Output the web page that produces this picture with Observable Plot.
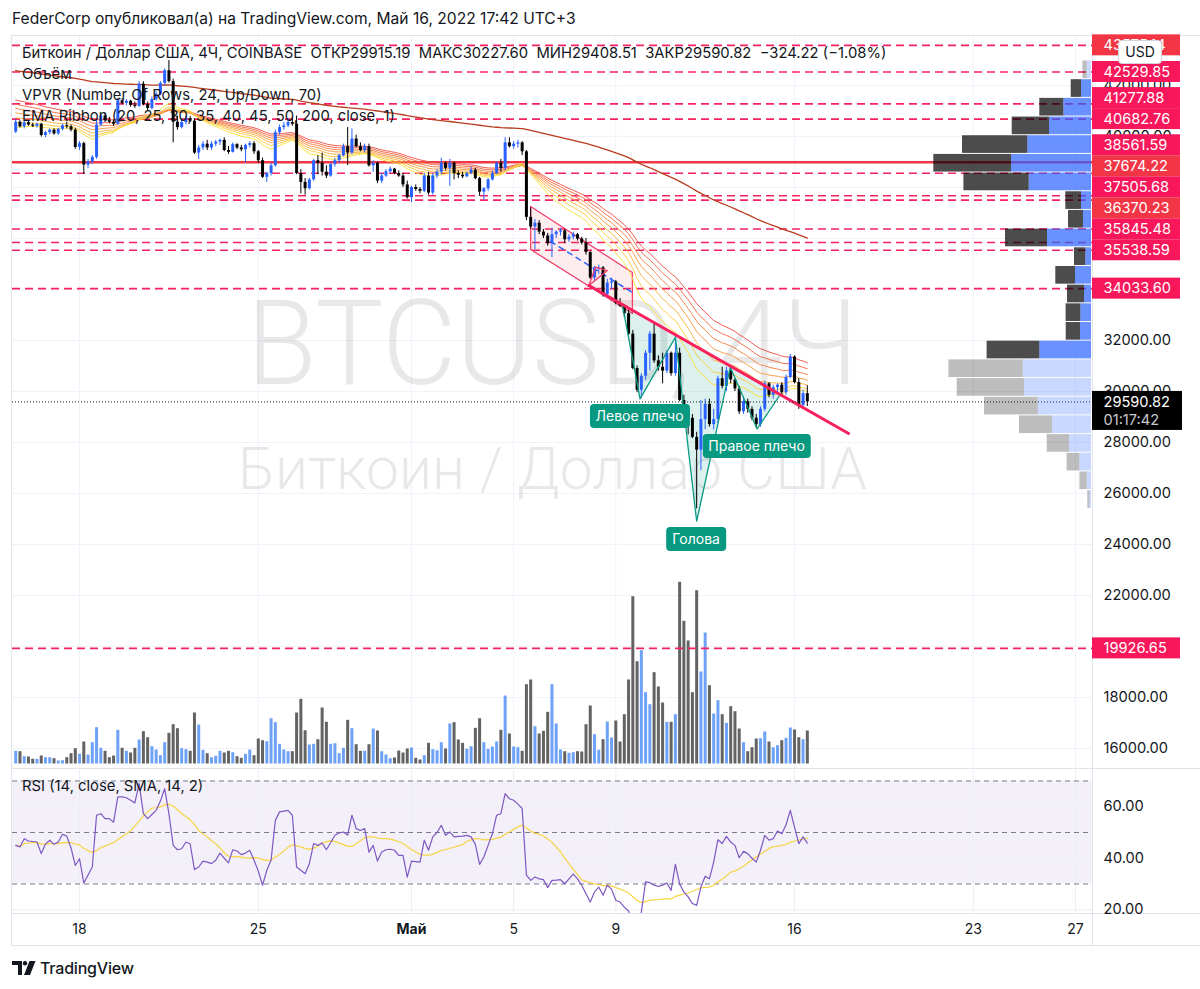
<!DOCTYPE html>
<html lang="ru"><head><meta charset="utf-8">
<script src="https://cdn.jsdelivr.net/npm/d3@7"></script>
<script src="https://cdn.jsdelivr.net/npm/@observablehq/plot@0.6"></script>
<style>
html,body{margin:0;padding:0;background:#fff;}
#root{position:relative;width:1200px;height:989px;overflow:hidden;font-family:Inter,"Noto Sans",Roboto,sans-serif;color:#131722;}
.abs{position:absolute;white-space:pre;}
.leg{font-size:14.8px;line-height:20px;}
.hs{position:absolute;background:#089981;color:#fff;font-size:14px;line-height:20px;padding:2px 6px;border-radius:4px;transform:translateX(-50%);white-space:nowrap;}
.ln{position:absolute;background:#e0e3eb;}
</style></head><body><div id="root"></div>
<script>
// ---------------- DATA ----------------
const headerText = "FederCorp опубликовал(а) на TradingView.com, Май 16, 2022 17:42 UTC+3";
const legendMain = "Биткоин / Доллар США, 4Ч, COINBASE  ОТКР29915.19  МАКС30227.60  МИН29408.51  ЗАКР29590.82  −324.22 (−1.08%)";
const legendVol = "Объём";
const legendVpvr = "VPVR (Number Of Rows, 24, Up/Down, 70)";
const legendEma = "EMA Ribbon (20, 25, 30, 35, 40, 45, 50, 200, close, 1)";
const legendRsi = "RSI (14, close, SMA, 14, 2)";
const watermarkSymbol = "BTCUSD, 4Ч";
const watermarkName = "Биткоин / Доллар США";
const barCountdown = "01:17:42";

// 4H candles, first bar 2022-04-15 12:00 UTC
const opens = [40170,40560,40380,40540,40450,40400,40480,40040,40150,40250,
40100,40280,40420,40380,40250,39570,39720,38880,39000,39180,
40450,40800,40620,40560,40480,41400,41300,41380,41220,41180,
42050,41250,41100,41450,41650,42080,42580,42150,40560,40350,
40550,40700,40600,39350,39550,39700,39550,39700,39780,39850,
39450,39380,39680,39550,39480,39650,39720,39400,39050,38400,
38550,38850,40150,40350,40420,40550,40480,38550,38200,37950,
38300,39050,38950,38600,38450,38900,39050,39250,39600,39350,
39900,39600,39450,39600,38850,38950,38250,38450,38620,38720,
38550,38450,38100,37600,38000,37920,37850,38450,37780,38450,
38600,38950,38750,38950,38550,38480,38420,38550,38680,38350,
37820,37950,38300,38550,38950,38750,39750,39600,39700,39750,
39400,36830,36450,36600,36250,36100,35800,36150,36250,36300,
35950,36050,36150,35980,35820,35450,34450,34800,34850,33800,
34250,34300,33450,33350,33050,32250,30900,30050,30600,31500,
32250,31200,30950,30800,31500,30700,31500,29650,29150,28950,
28200,27700,28900,29500,28700,28900,30500,30200,30800,30450,
30100,29200,29600,29300,28950,28700,29300,30300,29850,30150,
30250,29950,30550,31350,30350,29450,29915.19];
const highs = [40670,40620,40600,40590,40520,40520,40520,40200,40300,40300,
40320,40480,40560,40450,40320,39800,39780,39100,39250,40650,
40850,40900,40750,40650,41500,41480,41450,41420,41350,42150,
42150,41350,41550,41750,42150,42650,42980,42250,40800,40650,
40800,40780,40700,39650,39800,39850,39800,39850,39900,39950,
39600,39750,39720,39650,39700,39800,39800,39450,39150,38600,
38950,40250,40450,40550,40700,40750,40800,38700,38350,38350,
39100,39250,39350,38850,38950,39150,39300,39700,40350,40300,
40050,39750,39700,39700,39050,39000,38550,38700,38800,38750,
38650,38550,38250,38050,38100,38000,38550,38600,38550,38700,
39150,39000,39100,39000,38650,38600,38600,38800,38750,38400,
38000,38350,38650,39000,39100,39950,39950,39800,39850,39800,
39450,37200,36750,36700,36350,36200,36400,36300,36400,36350,
36150,36250,36200,36050,36000,35500,34900,34950,34900,34400,
34450,34350,33650,33400,33200,32400,31000,30700,31600,32350,
32650,31400,31500,31600,31550,32200,31700,29850,29300,29100,
28400,29650,29700,29700,29300,30600,30950,30950,30900,30500,
30200,29800,29700,29400,29100,29400,30400,30350,30250,30300,
30350,30650,31450,31400,30500,30050,30227.60];
const lows = [40120,40330,40300,40400,40350,40330,39980,39950,40080,40050,
40050,40220,40300,40180,39500,39450,38510,38750,38900,39100,
40400,40550,40500,40400,40450,41250,41200,41150,41100,41150,
41200,41000,41050,41380,41600,42000,42100,39750,40250,40300,
40450,40550,39300,39100,39450,39450,39450,39600,39650,39400,
39300,39350,39480,39400,38950,39550,39300,38950,38350,38200,
38450,38800,40050,40250,40350,40400,38500,37750,37700,37900,
38250,38500,38450,38350,38400,38800,38950,39200,38860,39300,
39550,39400,39350,38800,38600,38150,38150,38400,38550,38500,
38400,38000,37550,37400,37850,37750,37800,37700,37700,38350,
38500,38650,38050,38300,38350,38350,38380,38500,38300,37650,
37500,37850,38250,38500,38600,38650,39550,39500,39550,39250,
36700,36350,35570,36150,36000,35700,35250,36000,36100,35800,
35850,35950,35900,35750,35350,34400,34300,34600,33700,33750,
34000,33400,33300,32900,32200,30850,29950,29730,30450,30800,
31100,30800,30300,30700,30600,30600,29600,29050,28300,28150,
25400,26900,28500,28600,28500,28750,30100,30000,30300,30000,
29100,29100,29150,28850,28550,28600,29200,29750,29700,29900,
29850,29850,30500,30300,29300,29350,29408.51];
const closes = [40560,40380,40540,40450,40400,40480,40040,40150,40250,40100,
40280,40420,40380,40250,39570,39720,38880,39000,39180,40450,
40800,40620,40560,40480,41400,41300,41380,41220,41180,42050,
41250,41100,41450,41650,42080,42580,42150,40560,40350,40550,
40700,40600,39350,39550,39700,39550,39700,39780,39850,39450,
39380,39680,39550,39480,39650,39720,39400,39050,38400,38550,
38850,40150,40350,40420,40550,40480,38550,38200,37950,38300,
39050,38950,38600,38450,38900,39050,39250,39600,39350,39900,
39600,39450,39600,38850,38950,38250,38450,38620,38720,38550,
38450,38100,37600,38000,37920,37850,38450,37780,38450,38600,
38950,38750,38950,38550,38480,38420,38550,38680,38350,37820,
37950,38300,38550,38950,38750,39750,39600,39700,39750,39400,
36830,36450,36600,36250,36100,35800,36150,36250,36300,35950,
36050,36150,35980,35820,35450,34450,34800,34850,33800,34250,
34300,33450,33350,33050,32250,30900,30050,30600,31500,32250,
31200,30950,30800,31500,30700,31500,29650,29150,28950,28200,
27700,28900,29500,28700,28900,30500,30200,30800,30450,30100,
29200,29600,29300,28950,28700,29300,30300,29850,30150,30250,
29950,30550,31350,30350,29450,29915.19,29590.82];
// volume per bar (BTC)
const volumes = [1270,1230,730,700,470,470,800,630,630,530,
300,330,630,1030,1530,970,2200,900,2130,3630,
1570,1270,630,800,3370,1570,1270,1100,1570,2400,
3230,2630,1730,1400,830,2130,3070,3930,3530,1530,
1430,1270,5100,3900,1370,1030,630,770,1270,1100,
1270,1130,730,570,970,1400,830,2500,2330,2230,
4530,4130,1970,1400,1230,1230,5100,6470,3330,1900,
1970,2430,5600,4170,1970,2030,1030,1570,4370,3530,
1930,1270,1270,1930,3500,3300,1230,900,530,600,
1300,1100,1500,1600,570,400,830,2070,1430,1330,
2130,1500,4000,4130,2400,2070,1470,1730,3570,4530,
2130,1470,1700,2200,3370,6800,3000,1700,1630,1270,
7930,8400,3730,3000,3270,5170,7930,4000,1400,1230,
1070,1130,1230,1200,3930,5800,2930,1370,2430,4200,
2600,4300,2200,4930,8400,16730,10230,11330,7130,5930,
9130,7700,6100,4170,4170,4930,18170,14270,12300,7130,
17330,9200,13100,7830,5000,6330,4930,4070,5730,5230,
3500,2130,1230,1630,2500,2530,3200,2200,1630,1830,
2330,2570,3600,3400,2630,2430,3300];
// RSI(14) per bar
const rsi = [45,44.4,47.6,46.7,46.5,46.3,41.8,45.5,47,45.4,
46.3,49.3,48.6,44,37.2,39.8,30.4,33.5,36.6,56.7,
57.3,55.4,55.4,54,63.8,63.8,63.5,62.5,61.5,69,
57.3,55.4,57,58.6,62.2,67,57.3,45,43.3,43.7,
46.3,45.5,35.6,36.6,38.9,38.5,37.9,39.2,42,40,
38.2,43.3,42.8,41.4,42,43.1,39.2,35,29.5,35.3,
39.2,54.7,58,58.3,58.6,56.7,36.6,35.3,34,37.9,
45.7,45,45.9,43.3,46,48.9,49.8,50.2,49,56.7,
51.5,50.8,51.5,42.4,45,38.9,42.4,43.3,43.5,43.1,
41.1,41.1,32.7,38.9,38.7,38.5,47,43.1,48.3,50,
52.8,48.9,50.2,48.3,48.5,48.6,48.9,48.3,45.4,37.6,
40.5,45,49.5,56.7,57.3,65.1,63.1,62.5,61,59.3,
33.4,31.4,32.7,32,31.7,28.6,31.4,31.5,31.7,30.1,
32,33.8,32,29.5,26.2,23,26.9,28.8,25.6,29.5,
28,23.7,23,21,19.5,14,11,19.1,30.8,30.5,
29.5,29.1,29.5,30.4,27.5,37.6,30,26.9,25,22.4,
21.7,28.8,33,32,38.5,47.2,45.7,48.5,46.3,45,
40.2,42.7,41.8,40,38.5,43.1,48.9,47,47.6,50.6,
49.5,53,58.6,52.1,45.7,48.3,45.9];
// EMA ribbon periods and their values just before the first visible bar
const emaPeriods = [20,25,30,35,40,45,50];
const emaSeeds = [40350,40550,40750,40950,41130,41300,41470];
const ema200Seed = 42600;
// VPVR: 24 rows from the visible high to the visible low (top -> bottom)
const vpHigh = 42980, vpLow = 25400;
const vpUp =   [4.3,10,27.7,42,63.7,80,62.3,10,8,44,5.7,16,7,10.7,11,51.7,68.3,67,53.3,39,22,11.7,4.3,1.7];
const vpDown = [4.3,10.3,24,37.3,65.3,77.7,65.3,15.7,15,42,11.3,19.7,17,14.7,14.3,52.7,74.3,67.3,53.7,33,22.3,12.7,7.3,2];
const vpInValueArea = [0,1,1,1,1,1,1,1,1,1,1,1,1,1,1,1,0,0,0,0,0,0,0,0];
// horizontal lines
const hlinePrices = [43575.14,42529.85,41277.88,40682.76,38561.59,37674.22,37505.68,36370.23,35845.48,35538.59,34033.60,19926.65];
const hlineAltLabel = [43575.14,37674.22,36370.23];
const solidLinePrice = 38992;
// drawings (bar index, price)
const channelIdx = [121, 144.9];
const channelTop = [37255, 34666];
const channelBot = [35568, 33058];
const projIdx = [125.7, 144.9];
const projPrice = [35883, 33882];
const flagIdx = [134.7, 136.2, 139.0, 134.7];
const flagPrice = [34156, 34874, 34745, 34156];
const trendIdx = [134.7, 195.7];
const trendPrice = [34156, 28352];
const hsIdx = [142.5, 146.7, 155.0, 160.0, 167.9, 174.2, 179.5];
const hsPrice = [33450, 29713, 32129, 24913, 30952, 28537, 29843];
const hsLabels = [{k:1, text:"Левое плечо"}, {k:3, text:"Голова"}, {k:5, text:"Правое плечо"}];
// axes
const priceTicks = [16000,18000,20000,22000,24000,26000,28000,30000,32000,34000,36000,38000,40000,42000];
const rsiTicks = [20,40,60];
const rsiLevels = [70,50,30];
const timeTickDates = ["2022-04-18","2022-04-25","2022-05-01","2022-05-05","2022-05-09","2022-05-16","2022-05-23","2022-05-27"];
const timeTickLabels = ["18","25","Май","5","9","16","23","27"];
const timeTickBold = [false,false,true,false,false,false,false,false];

// ---------------- LAYOUT / STYLE ----------------
const FONT = 'Inter, "Noto Sans", Roboto, sans-serif';
const UP = "#2962ff", DOWN = "#000000", VOL_UP = "#6ea2f8", VOL_DOWN = "#636363";
const PINK = "#f5225f";
const AXIS_FS = 14.6;
const ribbonColors = ["#f8e23c","#fbcb3f","#fbb243","#f99a45","#f68246","#f26a47","#ee5248"];
const W = 1200, ML = 12, MR = 108;
const PANE_TOP = 36, PANE_H = 732, RSI_TOP = 768, RSI_H = 145, TAX_TOP = 913, TAX_H = 32;
const HOUR = 3600e3, BAR = 4 * HOUR;
const base = Date.UTC(2022, 3, 15, 12);
const tOf = i => new Date(base + i * BAR);
const xDomain = [new Date(base - 3.008 * HOUR), new Date(base + 1012.03 * HOUR)];
const yDomain = [15215.7, 43921.6];
const rsiDomain = [18.54, 74.85];

const root = document.getElementById("root");
function add(el, left, top) { el.style.position = "absolute"; el.style.left = left + "px"; el.style.top = top + "px"; root.appendChild(el); return el; }
function div(cls, text, left, top, extra) { const d = document.createElement("div"); d.className = cls; d.textContent = text; if (extra) Object.assign(d.style, extra); return add(d, left, top); }

// frame lines
[[12,35,1188,1],[11,35,1,911],[12,945,1188,1],[1092,35,1,911],[12,768,1188,1],[12,913,1188,1]].forEach(([l,t,w,h]) => div("ln", "", l, t, {width: w + "px", height: h + "px"}));

const candles = opens.map((o, i) => ({t: tOf(i), o, h: highs[i], l: lows[i], c: closes[i], v: volumes[i], up: closes[i] >= o}));
function ema(vals, n, seed) { const a = 2 / (n + 1); let e = seed; return vals.map(v => (e = a * v + (1 - a) * e)); }
const ribbon = emaPeriods.map((n, k) => ema(closes, n, emaSeeds[k]).map((v, i) => ({t: tOf(i), v})));
const ema200 = ema(closes, 200, ema200Seed).map((v, i) => ({t: tOf(i), v}));
const rsiData = rsi.map((v, i) => ({t: tOf(i), v, sma: d3.mean(rsi.slice(Math.max(0, i - 13), i + 1))}));
const timeTicks = timeTickDates.map((d, i) => ({date: new Date(d + "T00:00:00Z"), label: timeTickLabels[i], bold: timeTickBold[i]}));
const pts = (idx, pr) => idx.map((i, k) => ({t: tOf(i), p: pr[k]}));

const styleBase = {background: "transparent", overflow: "visible", fontFamily: FONT};
const common = {width: W, marginLeft: ML, marginRight: MR, marginTop: 0, marginBottom: 0, style: styleBase};
const xOpt = {type: "utc", domain: xDomain, axis: null};

// grid + watermark
const gridPlot = Plot.plot({...common, height: PANE_H, x: xOpt, y: {domain: yDomain, axis: null},
  marks: [
    Plot.ruleY(priceTicks, {stroke: "#f0f3fa"}),
    Plot.ruleX(timeTicks, {x: "date", stroke: "#f0f3fa"}),
    Plot.text([watermarkSymbol], {text: d => d, frameAnchor: "middle", lineAnchor: "bottom", dy: -19, fontSize: 118, fontWeight: 300, fontFamily: "Roboto, Inter, sans-serif", fill: "#000", fillOpacity: 0.09}),
    Plot.text([watermarkName], {text: d => d, frameAnchor: "middle", lineAnchor: "bottom", dy: 86, fontSize: 60, fontWeight: 300, fontFamily: "Roboto, Inter, sans-serif", fill: "#000", fillOpacity: 0.09})
  ]});
gridPlot.querySelectorAll("text").forEach(t => {
  if (t.textContent === watermarkSymbol) { t.setAttribute("textLength", 612); t.setAttribute("lengthAdjust", "spacingAndGlyphs"); }
  if (t.textContent === watermarkName) { t.setAttribute("textLength", 629); t.setAttribute("lengthAdjust", "spacingAndGlyphs"); }
});
add(gridPlot, 0, PANE_TOP);

// volume
const volPlot = Plot.plot({...common, height: PANE_H, marginBottom: 4.5, x: xOpt, y: {domain: [0, 72750], axis: null},
  marks: [
    Plot.ruleX(candles.filter(d => d.up), {x: "t", y1: 0, y2: "v", stroke: VOL_UP, strokeWidth: 3}),
    Plot.ruleX(candles.filter(d => !d.up), {x: "t", y1: 0, y2: "v", stroke: VOL_DOWN, strokeWidth: 3})
  ]});
add(volPlot, 0, PANE_TOP);

// main price pane
const channelPoly = [{t: tOf(channelIdx[0]), p: channelTop[0]}, {t: tOf(channelIdx[1]), p: channelTop[1]}, {t: tOf(channelIdx[1]), p: channelBot[1]}, {t: tOf(channelIdx[0]), p: channelBot[0]}, {t: tOf(channelIdx[0]), p: channelTop[0]}];
const hsPts = pts(hsIdx, hsPrice);
const lastClose = closes[closes.length - 1];
const mainPlot = Plot.plot({...common, height: PANE_H, x: xOpt, y: {domain: yDomain, axis: null},
  marks: [
    Plot.ruleY(hlinePrices, {stroke: PINK, strokeWidth: 1.6, strokeDasharray: "8,5"}),
    Plot.ruleY([solidLinePrice], {stroke: "#f23645", strokeWidth: 2.5}),
    Plot.line(channelPoly, {x: "t", y: "p", fill: "#f23645", fillOpacity: 0.09, stroke: "none"}),
    Plot.line(channelPoly, {x: "t", y: "p", stroke: "#f23f6c", strokeWidth: 1.3}),
    Plot.line(hsPts.concat([hsPts[0]]), {x: "t", y: "p", fill: "#089981", fillOpacity: 0.14, stroke: "none"}),
    Plot.line(ema200, {x: "t", y: "v", stroke: "#b83b1c", strokeWidth: 1.3}),
    ...ribbon.map((s, k) => Plot.line(s, {x: "t", y: "v", stroke: ribbonColors[k], strokeWidth: 1, strokeOpacity: 0.95})).reverse(),
    Plot.line(pts(projIdx, projPrice), {x: "t", y: "p", stroke: UP, strokeWidth: 1.5, strokeDasharray: "5,5"}),
    Plot.ruleX(candles.filter(d => d.up), {x: "t", y1: "l", y2: "h", stroke: UP, strokeWidth: 1}),
    Plot.ruleX(candles.filter(d => d.up), {x: "t", y1: "o", y2: "c", stroke: UP, strokeWidth: 3}),
    Plot.ruleX(candles.filter(d => !d.up), {x: "t", y1: "l", y2: "h", stroke: DOWN, strokeWidth: 1}),
    Plot.ruleX(candles.filter(d => !d.up), {x: "t", y1: "o", y2: "c", stroke: DOWN, strokeWidth: 3}),
    Plot.line(pts(flagIdx, flagPrice), {x: "t", y: "p", stroke: "#f23f6c", strokeWidth: 1.3, fill: "#f23645", fillOpacity: 0.08}),
    Plot.line(hsPts, {x: "t", y: "p", stroke: "#089981", strokeWidth: 1.3}),
    Plot.line(pts(trendIdx, trendPrice), {x: "t", y: "p", stroke: "#f7215e", strokeWidth: 3}),
    Plot.ruleY([lastClose], {stroke: "#131722", strokeWidth: 1, strokeDasharray: "1,2"})
  ]});
add(mainPlot, 0, PANE_TOP);
const xs = mainPlot.scale("x"), ys = mainPlot.scale("y");

// VPVR
const vpStep = (vpHigh - vpLow) / vpUp.length;
const vpRows = vpUp.map((u, k) => ({up: u, tot: u + vpDown[k], hi: vpHigh - k * vpStep, lo: vpHigh - (k + 1) * vpStep, va: vpInValueArea[k] === 1}));
const vpPlot = Plot.plot({...common, height: PANE_H, marginRight: 109, x: {domain: [0, 1079], reverse: true, axis: null}, y: {domain: yDomain, axis: null},
  marks: [
    Plot.rect(vpRows.filter(d => d.va), {x1: 0, x2: "up", y1: "lo", y2: "hi", fill: "rgba(41,98,255,0.7)", insetTop: 0.5, insetBottom: 0.5}),
    Plot.rect(vpRows.filter(d => d.va), {x1: "up", x2: "tot", y1: "lo", y2: "hi", fill: "rgba(0,0,0,0.7)", insetTop: 0.5, insetBottom: 0.5}),
    Plot.rect(vpRows.filter(d => !d.va), {x1: 0, x2: "up", y1: "lo", y2: "hi", fill: "rgba(41,98,255,0.25)", insetTop: 0.5, insetBottom: 0.5}),
    Plot.rect(vpRows.filter(d => !d.va), {x1: "up", x2: "tot", y1: "lo", y2: "hi", fill: "rgba(0,0,0,0.26)", insetTop: 0.5, insetBottom: 0.5})
  ]});
add(vpPlot, 0, PANE_TOP);

// price axis with stacked labels (TradingView pushes overlapping labels upward)
const LH = 10.5;
const lab = hlinePrices.map(p => ({p})).sort((a, b) => a.p - b.p);
let prevY = Infinity;
for (const d of lab) {
  let y = ys.apply(d.p);
  if (y > prevY - 21) y = prevY - 21;
  prevY = y;
  d.py = y;
  d.ly = ys.invert(y); d.y1 = ys.invert(y + LH); d.y2 = ys.invert(y - LH);
  d.text = d.p.toFixed(2);
  d.color = hlineAltLabel.includes(d.p) ? "#f23645" : "#f7175a";
}
const cy = ys.apply(lastClose);
const cur = {p: lastClose, text: lastClose.toFixed(2), cd: barCountdown, y1: ys.invert(cy - 10.5), y2: ys.invert(cy + 28.5), y3: ys.invert(cy + 18.5)};
// price ticks fully hidden behind a label are not drawn
const boxes = lab.map(d => [d.py - LH, d.py + LH]).concat([[cy - 10.5, cy + 28.5]]);
const visibleTicks = priceTicks.filter(t => {
  const ty = ys.apply(t);
  for (let k = -5; k <= 5; k++) { const yy = ty + k; if (!boxes.some(([a, b]) => yy >= a && yy <= b)) return true; }
  return false;
});
const axisPlot = Plot.plot({width: 108, height: PANE_H, margin: 0, x: {domain: [0, 108], axis: null}, y: {domain: yDomain, axis: null}, color: {type: "identity"}, style: styleBase,
  marks: [
    Plot.text(visibleTicks, {x: 11, y: d => d, text: d => d.toFixed(2), textAnchor: "start", fontSize: AXIS_FS, fill: "#131722"}),
    Plot.rect(lab, {x1: 0, x2: 88, y1: "y1", y2: "y2", fill: "color"}),
    Plot.text(lab, {x: 11, y: "ly", text: "text", textAnchor: "start", fontSize: AXIS_FS, fill: "#ffffff"}),
    Plot.rect([cur], {x1: 0, x2: 90, y1: "y1", y2: "y2", fill: "#000000"}),
    Plot.text([cur], {x: 11, y: "p", text: "text", textAnchor: "start", fontSize: AXIS_FS, fill: "#ffffff"}),
    Plot.text([cur], {x: 11, y: "y3", text: "cd", textAnchor: "start", fontSize: AXIS_FS, fill: "#c8cad0"})
  ]});
add(axisPlot, 1092, PANE_TOP);

// RSI pane
const rsiPlot = Plot.plot({...common, height: RSI_H, x: xOpt, y: {domain: rsiDomain, axis: null},
  marks: [
    Plot.rect([0], {x1: () => xDomain[0], x2: () => xDomain[1], y1: 30, y2: 70, fill: "#7e57c2", fillOpacity: 0.09}),
    Plot.ruleY(rsiTicks, {stroke: "#eceef4"}),
    Plot.ruleX(timeTicks, {x: "date", stroke: "#eceef4"}),
    Plot.ruleY(rsiLevels, {stroke: "#787b86", strokeDasharray: "5,4"}),
    Plot.line(rsiData, {x: "t", y: "sma", stroke: "#f7d443", strokeWidth: 1.2, clip: true}),
    Plot.line(rsiData, {x: "t", y: "v", stroke: "#7e57c2", strokeWidth: 1.2, clip: true}),
    Plot.text(rsiTicks, {y: d => d, text: d => d.toFixed(2), frameAnchor: "right", dx: 11, textAnchor: "start", fontSize: AXIS_FS, fill: "#131722"})
  ]});
add(rsiPlot, 0, RSI_TOP);

// time axis
const taxPlot = Plot.plot({...common, height: TAX_H, x: xOpt,
  marks: [
    Plot.text(timeTicks.filter(d => !d.bold), {x: "date", text: "label", frameAnchor: "middle", fontSize: 14, fill: "#131722"}),
    Plot.text(timeTicks.filter(d => d.bold), {x: "date", text: "label", frameAnchor: "middle", fontSize: 14, fontWeight: "bold", fill: "#131722"})
  ]});
add(taxPlot, 0, TAX_TOP);

// H&S labels
hsLabels.forEach(L => {
  const px = xs.apply(tOf(hsIdx[L.k])), py = ys.apply(hsPrice[L.k]);
  div("hs", L.text, px, PANE_TOP + py + 6);
});

// texts
div("abs", headerText, 12, 9, {fontSize: "15.6px", lineHeight: "20px"});
div("abs leg", legendMain, 22, 43);
div("abs leg", legendVol, 22, 64);
div("abs leg", legendVpvr, 22, 85);
div("abs leg", legendEma, 22, 106);
div("abs leg", legendRsi, 22, 776);
div("abs", "USD", 1118, 40, {width: "42px", height: "22px", lineHeight: "22px", textAlign: "center", fontSize: "14px", background: "#fff", border: "1px solid #d1d4dc", borderRadius: "4px"});

// footer logo
const logo = document.createElement("div");
logo.innerHTML = '<svg width="24" height="14" viewBox="0 0 24 14" style="vertical-align:-1px"><path d="M0 0h10v14H6V4H0z" fill="#131722"/><circle cx="13" cy="2.2" r="2.2" fill="#131722"/><path d="M17.5 0h6l-5.5 14h-6z" fill="#131722"/></svg><span style="font-size:16px;font-weight:500;margin-left:4px;letter-spacing:-0.2px">TradingView</span>';
logo.style.whiteSpace = "nowrap";
add(logo, 12, 958);
</script></body></html>
